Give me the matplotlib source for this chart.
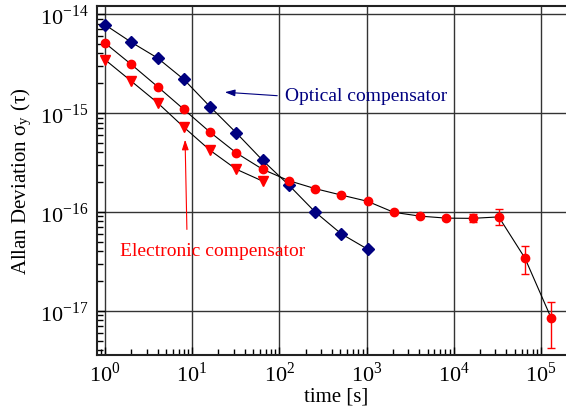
import numpy as np
import matplotlib
matplotlib.use("Agg")
import matplotlib.pyplot as plt
from matplotlib.ticker import LogLocator, NullFormatter, FixedLocator

plt.rcParams['font.family'] = ['Liberation Serif', 'DejaVu Serif']
plt.rcParams['mathtext.fontset'] = 'stix'

# averaging times [s]
tau_opt = [1, 2, 4, 8, 16, 32, 64, 128, 256, 512, 1024]
adev_opt = [7.8e-15, 5.2e-15, 3.6e-15, 2.19e-15, 1.16e-15, 6.3e-16, 3.33e-16,
            1.87e-16, 1.0e-16, 6.0e-17, 4.2e-17]

tau_el = [1, 2, 4, 8, 16, 32, 64, 128, 256, 512, 1024, 2048, 4096, 8192,
          16384, 32768, 65536, 131072]
adev_el = [5.1e-15, 3.1e-15, 1.85e-15, 1.09e-15, 6.4e-16, 3.95e-16, 2.7e-16,
           2.07e-16, 1.72e-16, 1.48e-16, 1.28e-16, 9.9e-17, 9.06e-17, 8.65e-17,
           8.6e-17, 8.9e-17, 3.4e-17, 8.4e-18]
err_lo = [0, 0, 0, 0, 0, 0, 0, 0, 0, 0, 0, 0, 0, 0.3e-17, 0.7e-17, 1.6e-17,
          1.03e-17, 4.2e-18]
err_hi = [0, 0, 0, 0, 0, 0, 0, 0, 0, 0, 0, 0, 0, 0.4e-17, 0.9e-17, 1.8e-17,
          1.07e-17, 4.0e-18]

tau_tri = [1, 2, 4, 8, 16, 32, 64]
adev_tri = [3.46e-15, 2.1e-15, 1.27e-15, 7.2e-16, 4.2e-16, 2.7e-16, 2.05e-16]

x_ticks = [1e0, 1e1, 1e2, 1e3, 1e4, 1e5]
y_ticks = [1e-17, 1e-16, 1e-15, 1e-14]

W, H = 566, 410
fig = plt.figure(figsize=(W / 100, H / 100), dpi=100)
ax = fig.add_axes([97 / W, 1 - 356 / H, 478.7 / W, 348.7 / H])

ax.set_xscale('log')
ax.set_yscale('log')

ax.plot(tau_opt, adev_opt, '-', color='black', lw=0.8, zorder=2)
ax.plot(tau_opt, adev_opt, 'D', color='#000080', ms=6.5, zorder=3)

ax.plot(tau_el, adev_el, '-', color='black', lw=0.8, zorder=2)
ax.errorbar(tau_el, adev_el, yerr=[err_lo, err_hi], fmt='o', color='red',
            ms=6, elinewidth=1, capsize=3, capthick=1, zorder=3)

ax.plot(tau_tri, adev_tri, '-', color='black', lw=0.8, zorder=2)
ax.plot(tau_tri, adev_tri, 'v', color='red', ms=6.5, zorder=3)

ax.set_xlim(0.809, 2.5e5)
ax.set_ylim(3.57e-18, 1.2e-14)

ax.grid(True, which='major', color='#333333', lw=1, zorder=1)
ax.spines['right'].set_visible(False)
for s in ['left', 'bottom', 'top']:
    ax.spines[s].set_linewidth(1.5)
    ax.spines[s].set_color('#222222')

ax.xaxis.set_major_locator(FixedLocator(x_ticks))
ax.yaxis.set_major_locator(FixedLocator(y_ticks))
ax.xaxis.set_minor_locator(LogLocator(base=10, subs=np.arange(2, 10), numticks=10))
ax.yaxis.set_minor_locator(LogLocator(base=10, subs=np.arange(2, 10), numticks=10))
ax.xaxis.set_minor_formatter(NullFormatter())
ax.yaxis.set_minor_formatter(NullFormatter())
ax.set_xticklabels([r'10$^{\mathregular{%d}}$' % int(np.log10(v)) for v in x_ticks])
ax.set_yticklabels([r'10$^{\mathregular{%d}}$' % int(np.log10(v)) for v in y_ticks])
ax.tick_params(which='both', direction='in', top=False, right=False, labelsize=16)
ax.tick_params(which='major', length=6, width=1)
ax.tick_params(which='minor', length=4, width=1)
ax.tick_params(axis='x', pad=5)
ax.tick_params(axis='y', pad=6)

ax.set_xlabel('time [s]', fontsize=15, labelpad=0)
ax.set_ylabel('Allan Deviation σ$_{\\mathregular{y}}$ (τ)', fontsize=15, labelpad=4)

ax.annotate('', xy=(22.0, 1.63e-15), xytext=(101.6, 1.49e-15),
            arrowprops=dict(arrowstyle='-|>,head_length=0.6,head_width=0.2',
                            color='#000080', lw=0.8))
ax.text(116, 1.52e-15, 'Optical compensator', color='#000080', fontsize=14,
        va='center', ha='left')

ax.annotate('', xy=(8.27, 5.73e-16), xytext=(8.7, 6.23e-17),
            arrowprops=dict(arrowstyle='-|>,head_length=0.6,head_width=0.2',
                            color='red', lw=0.8))
ax.text(1.49, 4.1e-17, 'Electronic compensator', color='red', fontsize=14,
        va='center', ha='left')

fig.savefig('out.png', dpi=100)
